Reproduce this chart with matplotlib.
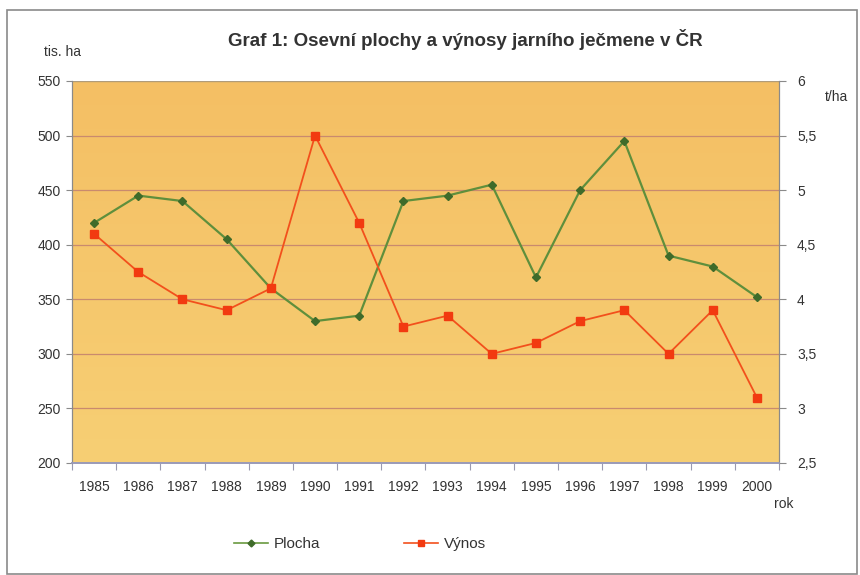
import numpy as np
import matplotlib
matplotlib.use("Agg")
import matplotlib.pyplot as plt
from matplotlib.lines import Line2D
from matplotlib.patches import Rectangle
from matplotlib.colors import LinearSegmentedColormap

plt.rcParams['font.family'] = ['Liberation Sans', 'DejaVu Sans']

years = [str(y) for y in range(1985, 2001)]
plocha = [420, 445, 440, 405, 360, 330, 335, 440, 445, 455, 370, 450, 495, 390, 380, 352]
vynos = [4.6, 4.25, 4.0, 3.9, 4.1, 5.5, 4.7, 3.75, 3.85, 3.5, 3.6, 3.8, 3.9, 3.5, 3.9, 3.1]
left_ticks = [200, 250, 300, 350, 400, 450, 500, 550]
right_ticks = [2.5, 3, 3.5, 4, 4.5, 5, 5.5, 6]
right_labels = ["2,5", "3", "3,5", "4", "4,5", "5", "5,5", "6"]

fig = plt.figure(figsize=(8.6, 5.75), dpi=100)
fig.patch.set_facecolor('white')

# outer frame of the chart
fig.patches.append(Rectangle((7 / 860, 0.002), 850 / 860, 1 - 10 / 575 - 0.002,
                             transform=fig.transFigure, fill=False,
                             edgecolor='#8a8a8a', linewidth=1.2))

ax = fig.add_axes([72 / 860, 1 - 463 / 575, 707 / 860, 382 / 575])
x = np.arange(len(years))

# plot area gradient: orange at top, slightly lighter toward the bottom
cmap = LinearSegmentedColormap.from_list('bg', ['#f7cf74', '#f4bf64'])
grad = np.linspace(0, 1, 256).reshape(-1, 1)
ax.imshow(grad, aspect='auto', cmap=cmap, origin='lower',
          extent=[-0.5, 15.5, 200, 550], zorder=0)

ax.set_xlim(-0.5, 15.5)
ax.set_ylim(200, 550)
ax.set_yticks(left_ticks)
for t in left_ticks[1:-1]:
    ax.axhline(t, color='#c98a6e', linewidth=0.9, zorder=1)
ax.axhline(550, color='#b09c7a', linewidth=1.0, zorder=1)

ax2 = ax.twinx()
ax2.set_ylim(2.5, 6)
ax2.set_yticks(right_ticks)
ax2.set_yticklabels(right_labels)

ax.plot(x, plocha, color='#5f8f3c', linewidth=1.6, marker='D', markersize=3.8,
        markerfacecolor='#3f6b2a', markeredgecolor='#3f6b2a', zorder=4)
ax2.plot(x, vynos, color='#f2501c', linewidth=1.3, marker='s', markersize=5.2,
         markerfacecolor='#f23a10', markeredgecolor='#f23a10', zorder=4)

# category ticks sit on the boundaries between years
ax.set_xticks(np.arange(-0.5, 16, 1), minor=False)
ax.set_xticklabels([])
ax.set_xticks(x, minor=True)
ax.set_xticklabels(years, minor=True)
ax.tick_params(axis='x', which='major', length=5, color='#9a9ab0', direction='out')
ax.tick_params(axis='x', which='minor', length=0, pad=12, labelsize=10, labelcolor='#333333')
ax.tick_params(axis='y', length=4, color='#8a8a8a', labelsize=10, labelcolor='#333333', pad=4)
ax2.tick_params(axis='y', length=5, color='#8a8a8a', labelsize=10, labelcolor='#333333', pad=8)

for a in (ax, ax2):
    a.spines['top'].set_visible(False)
    a.spines['left'].set_color('#8a8a8a')
    a.spines['right'].set_color('#8a8a8a')
    a.spines['bottom'].set_color('#9a9ab8')
    a.spines['bottom'].set_linewidth(1.2)

fig.text(465 / 860, 1 - 40 / 575, 'Graf 1: Osevní plochy a výnosy jarního ječmene v ČR',
         ha='center', va='center', fontsize=13.5, fontweight='bold', color='#333333')
fig.text(62 / 860, 1 - 52 / 575, 'tis. ha', ha='center', va='center', fontsize=10, color='#333333')
fig.text(836 / 860, 1 - 97 / 575, 't/ha', ha='center', va='center', fontsize=10, color='#333333')
fig.text(784 / 860, 1 - 504 / 575, 'rok', ha='center', va='center', fontsize=10, color='#333333')

handles = [
    Line2D([], [], color='#6a9a40', linewidth=1.2, marker='D', markersize=3.5,
           markerfacecolor='#3f6b2a', markeredgecolor='#3f6b2a'),
    Line2D([], [], color='#f2501c', linewidth=1.2, marker='s', markersize=4.5,
           markerfacecolor='#f23a10', markeredgecolor='#f23a10'),
]
fig.legend(handles, ['Plocha', 'Výnos'], loc='center', ncol=2,
           bbox_to_anchor=(360 / 860, 1 - 544 / 575), frameon=False,
           fontsize=11, handlelength=2.2, handletextpad=0.4, columnspacing=5.5,
           labelcolor='#333333')

fig.savefig('out.png', dpi=100, facecolor='white')
